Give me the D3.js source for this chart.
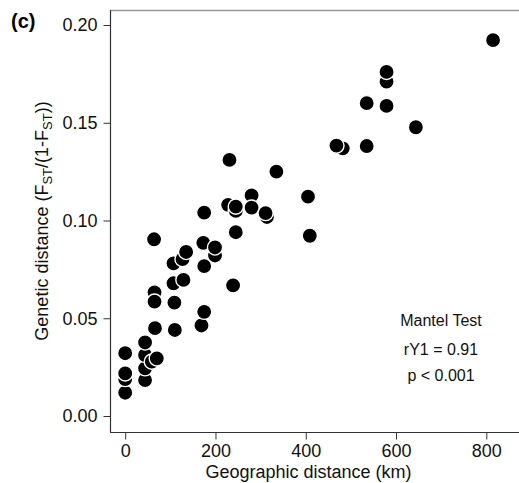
<!DOCTYPE html>
<html>
<head>
<meta charset="utf-8">
<script src="https://cdn.jsdelivr.net/npm/d3@7"></script>
<style>
  html, body { margin: 0; padding: 0; background: #fff; }
  svg { display: block; font-family: "Liberation Sans", Arial, sans-serif; }
</style>
</head>
<body>
<div id="chart"></div>
<script>
// Geographic distance (km) for each population pair
const geoDist = [0, 0, 0, 0, 44, 44, 44, 44, 59, 70, 66, 65, 65, 64,
  110, 109, 107, 129, 107, 127, 135, 169, 175, 175, 173, 199, 199, 175,
  239, 245, 228, 245, 245, 280, 280, 314, 311, 231, 335, 405, 409,
  482, 468, 535, 535, 579, 579, 579, 644, 815];
// Genetic distance FST/(1-FST) for each pair (same order)
const genDist = [0.0119, 0.0189, 0.0218, 0.0321, 0.0184, 0.0244, 0.0312, 0.0376, 0.0278, 0.0295, 0.0449, 0.0632, 0.0585, 0.0904,
  0.0440, 0.0580, 0.0679, 0.0696, 0.0781, 0.0802, 0.0839, 0.0463, 0.0533, 0.0767, 0.0886, 0.0821, 0.0862, 0.1040,
  0.0668, 0.0940, 0.1080, 0.1049, 0.1071, 0.1128, 0.1066, 0.1018, 0.1038, 0.1310, 0.1250, 0.1122, 0.0922,
  0.1369, 0.1383, 0.1381, 0.1600, 0.1586, 0.1710, 0.1760, 0.1477, 0.1923];
const xTicks = [0, 200, 400, 600, 800];
const yTicks = [0.00, 0.05, 0.10, 0.15, 0.20];
const statLines = ["Mantel Test", "rY1 = 0.91", "p < 0.001"];

(function () {
const W = 519, H = 483;
const svg = d3.select("#chart").append("svg").attr("width", W).attr("height", H);

const x = d3.scaleLinear().domain([0, 800]).range([125.2, 486.3]);
const y = d3.scaleLinear().domain([0, 0.2]).range([416, 25]);

const pLeft = 110, pTop = 10, pBottom = 432, pRight = 525;

// box
svg.append("line").attr("x1", pLeft).attr("x2", pRight).attr("y1", pTop + 0.5).attr("y2", pTop + 0.5)
  .attr("stroke", "#9a9a9a").attr("stroke-width", 1.4);
svg.append("line").attr("x1", pLeft + 0.5).attr("x2", pLeft + 0.5).attr("y1", pTop).attr("y2", pBottom)
  .attr("stroke", "#333").attr("stroke-width", 1.2);
svg.append("line").attr("x1", pLeft).attr("x2", pRight).attr("y1", pBottom + 0.5).attr("y2", pBottom + 0.5)
  .attr("stroke", "#333").attr("stroke-width", 1.2);

// x axis
const xAxis = d3.axisBottom(x).tickValues(xTicks).tickSize(7).tickPadding(5).tickFormat(d3.format("d"));
const gx = svg.append("g").attr("transform", `translate(0,${pBottom + 0.5})`).call(xAxis);
gx.select(".domain").remove();
gx.selectAll("line").attr("stroke", "#333");
gx.selectAll("text").attr("font-size", 18).attr("fill", "#111")
  .attr("font-family", "Liberation Sans, Arial, sans-serif");

// y axis
const yAxis = d3.axisLeft(y).tickValues(yTicks).tickSize(7).tickPadding(6).tickFormat(d3.format(".2f"));
const gy = svg.append("g").attr("transform", `translate(${pLeft + 0.5},0)`).call(yAxis);
gy.select(".domain").remove();
gy.selectAll("line").attr("stroke", "#333");
gy.selectAll("text").attr("font-size", 18).attr("fill", "#111")
  .attr("font-family", "Liberation Sans, Arial, sans-serif");

// axis titles
svg.append("text").attr("x", 308.5).attr("y", 478).attr("text-anchor", "middle")
  .attr("font-size", 18).attr("fill", "#111").text("Geographic distance (km)");

const yt = svg.append("text").attr("transform", "translate(48,221) rotate(-90)")
  .attr("text-anchor", "middle").attr("font-size", 18).attr("fill", "#111");
yt.append("tspan").text("Genetic distance (F");
yt.append("tspan").attr("font-size", 13).attr("dy", 4).text("ST");
yt.append("tspan").attr("dy", -4).text("/(1-F");
yt.append("tspan").attr("font-size", 13).attr("dy", 4).text("ST");
yt.append("tspan").attr("dy", -4).text("))");

// panel label
svg.append("text").attr("x", 11).attr("y", 28).attr("font-size", 20).attr("font-weight", "bold")
  .attr("fill", "#000").text("(c)");

// points
const pts = geoDist.map((d, i) => ({ d, g: genDist[i] }));
svg.append("g").selectAll("circle").data(pts).enter().append("circle")
  .attr("cx", p => x(p.d)).attr("cy", p => y(p.g)).attr("r", 7.6)
  .attr("fill", "#000").attr("stroke", "#fff").attr("stroke-width", 1.4);

// stats annotation
svg.append("g").selectAll("text").data(statLines).enter().append("text")
  .attr("x", 441).attr("y", (d, i) => [326, 355, 381][i])
  .attr("text-anchor", "middle").attr("font-size", 16).attr("fill", "#111").text(d => d);
})();
</script>
</body>
</html>
